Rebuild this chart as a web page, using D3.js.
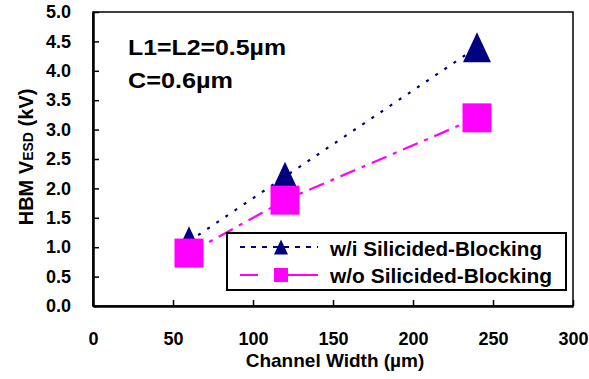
<!DOCTYPE html>
<html>
<head>
<meta charset="utf-8">
<script src="https://cdn.jsdelivr.net/npm/d3@7"></script>
<style>
  body { margin: 0; background: #fff; }
  text { font-family: "Liberation Sans", Arial, sans-serif; font-weight: bold; fill: #000; }
</style>
</head>
<body>
<div id="chart"></div>
<script>
var widths = [60, 120, 240];
var withBlocking = [1.1, 2.2, 4.4];
var withoutBlocking = [0.9, 1.8, 3.2];
var xTicks = [0, 50, 100, 150, 200, 250, 300];
var yTicks = [0, 0.5, 1, 1.5, 2, 2.5, 3, 3.5, 4, 4.5, 5];
var seriesNames = ["w/i Silicided-Blocking", "w/o Silicided-Blocking"];

var margin = {top: 12, right: 16, bottom: 73, left: 93},
    width = 589 - margin.left - margin.right,
    height = 379 - margin.top - margin.bottom;

var svg = d3.select("#chart")
  .append("svg")
    .attr("width", 589)
    .attr("height", 379)
  .append("g")
    .attr("transform", "translate(" + margin.left + "," + margin.top + ")");

var x = d3.scaleLinear().domain([0, 300]).range([0, width]);
var y = d3.scaleLinear().domain([0, 5]).range([height, 0]);

// frame
svg.append("rect")
  .attr("width", width).attr("height", height)
  .attr("fill", "none").attr("stroke", "#000").attr("stroke-width", 1.5);

var xAxis = svg.append("g")
  .attr("transform", "translate(0," + height + ")")
  .call(d3.axisBottom(x).tickValues(xTicks).tickSizeInner(-6).tickSizeOuter(0).tickPadding(26));
xAxis.select(".domain").attr("stroke-width", 2.5);
xAxis.selectAll("line").attr("stroke-width", 1.5);
xAxis.selectAll("text").style("font-size", "18px");

var yAxis = svg.append("g")
  .call(d3.axisLeft(y).tickValues(yTicks).tickFormat(d3.format(".1f")).tickSizeInner(-6).tickSizeOuter(0).tickPadding(22));
yAxis.select(".domain").attr("stroke-width", 2.5);
yAxis.selectAll("line").attr("stroke-width", 1.5);
yAxis.selectAll("text").style("font-size", "18px");

// axis titles
svg.append("text")
  .attr("x", 242)
  .attr("y", height + 61)
  .style("text-anchor", "middle")
  .style("font-size", "19px")
  .text("Channel Width (\u00b5m)");

var yt = svg.append("text")
  .attr("transform", "translate(-60," + (height / 2 - 2) + ")rotate(-90)")
  .style("text-anchor", "middle")
  .style("font-size", "20px");
yt.append("tspan").text("HBM V");
yt.append("tspan").style("font-size", "14px").text("ESD");
yt.append("tspan").text(" (kV)");

// annotation
svg.append("text").attr("x", 35).attr("y", 43).style("font-size", "22px")
  .attr("textLength", 158).attr("lengthAdjust", "spacingAndGlyphs").text("L1=L2=0.5\u00b5m");
svg.append("text").attr("x", 35).attr("y", 76).style("font-size", "22px")
  .attr("textLength", 105).attr("lengthAdjust", "spacingAndGlyphs").text("C=0.6\u00b5m");

function triPath(cx, cy, w, h) {
  return "M" + cx + "," + (cy - h / 2) + "L" + (cx + w / 2) + "," + (cy + h / 2) + "L" + (cx - w / 2) + "," + (cy + h / 2) + "Z";
}

var line = d3.line()
  .x(function(d) { return x(d[0]); })
  .y(function(d) { return y(d[1]); });

var s1 = widths.map(function(w, i) { return [w, withBlocking[i]]; });
var s2 = widths.map(function(w, i) { return [w, withoutBlocking[i]]; });

svg.append("path").datum(s1)
  .attr("d", line).attr("fill", "none")
  .attr("stroke", "#000080").attr("stroke-width", 2.2)
  .attr("stroke-dasharray", "3,8");

svg.selectAll(".tri").data(s1).enter().append("path")
  .attr("d", function(d) { return triPath(x(d[0]), y(d[1]), 28, 30); })
  .attr("fill", "#000080");

svg.append("path").datum(s2)
  .attr("d", line).attr("fill", "none")
  .attr("stroke", "#ff00ff").attr("stroke-width", 2.2)
  .attr("stroke-dasharray", "16,7,4,7");

svg.selectAll(".sq").data(s2).enter().append("rect")
  .attr("x", function(d) { return x(d[0]) - 14.5; })
  .attr("y", function(d) { return y(d[1]) - 14.5; })
  .attr("width", 29).attr("height", 29)
  .attr("fill", "#ff00ff");

// legend
var lg = svg.append("g").attr("transform", "translate(134,221)");
lg.append("rect").attr("width", 339).attr("height", 57)
  .attr("fill", "#fff").attr("stroke", "#000").attr("stroke-width", 2);

lg.append("line").attr("x1", 13).attr("x2", 91).attr("y1", 14).attr("y2", 14)
  .attr("stroke", "#000080").attr("stroke-width", 2.2).attr("stroke-dasharray", "5,6");
lg.append("path").attr("d", triPath(54, 14, 14, 15)).attr("fill", "#000080");
lg.append("text").attr("x", 103).attr("y", 23).style("font-size", "20px")
  .attr("textLength", 212).attr("lengthAdjust", "spacingAndGlyphs").text(seriesNames[0]);

lg.append("line").attr("x1", 13).attr("x2", 91).attr("y1", 42).attr("y2", 42)
  .attr("stroke", "#ff00ff").attr("stroke-width", 2.2).attr("stroke-dasharray", "18,17,43,0");
lg.append("rect").attr("x", 47).attr("y", 35).attr("width", 14).attr("height", 14).attr("fill", "#ff00ff");
lg.append("text").attr("x", 103).attr("y", 50).style("font-size", "20px")
  .attr("textLength", 222).attr("lengthAdjust", "spacingAndGlyphs").text(seriesNames[1]);
</script>
</body>
</html>
